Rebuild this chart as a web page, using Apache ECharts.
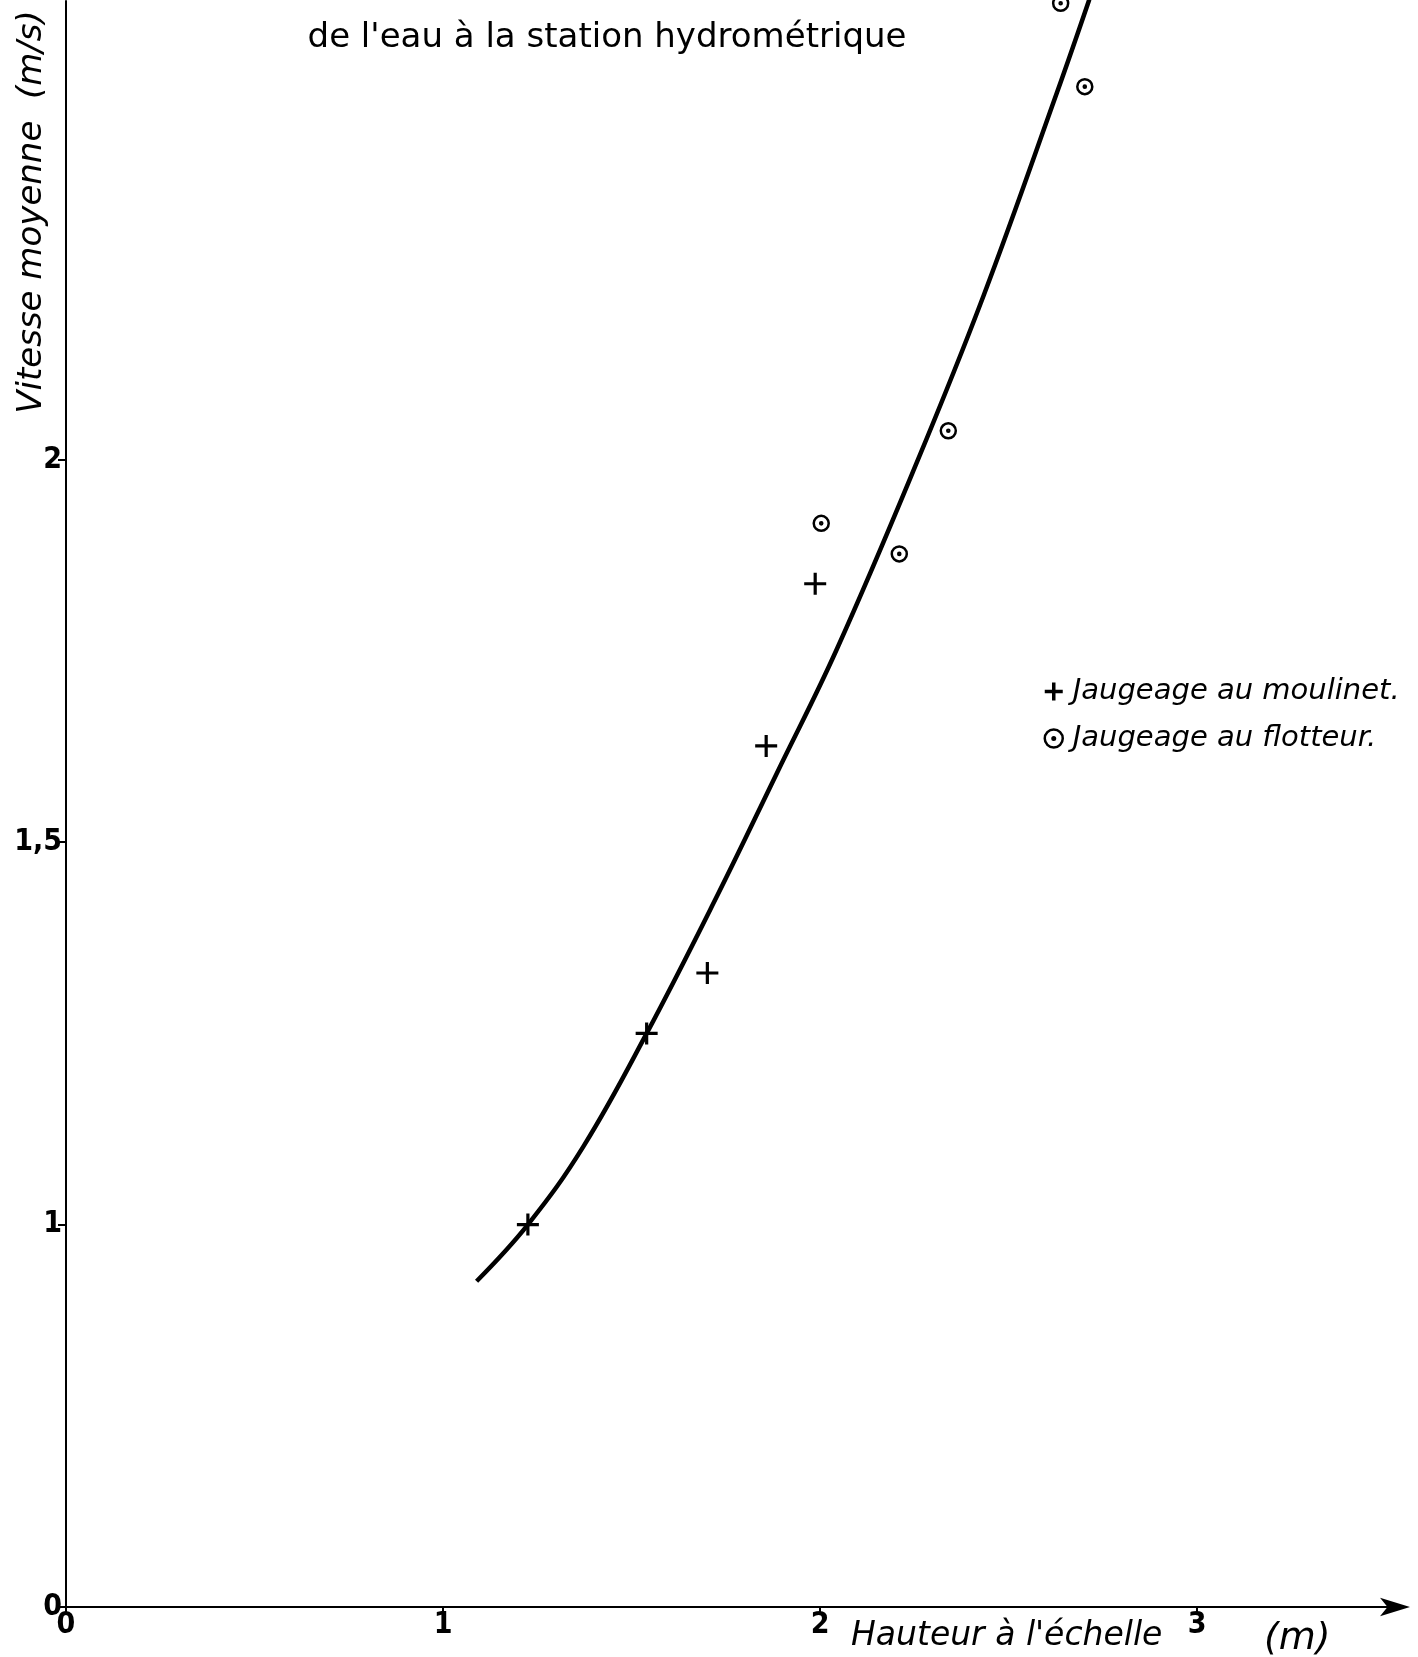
<!DOCTYPE html>
<html>
<head>
<meta charset="utf-8">
<script src="https://cdn.jsdelivr.net/npm/echarts@6/dist/echarts.min.js"></script>
<style>
  html, body { margin: 0; padding: 0; background: #fff; }
  #chart { width: 1418px; height: 1657px; }
</style>
</head>
<body>
<div id="chart"></div>
<script>
// ---- Data ----
// Hauteur à l'échelle (m), vitesse moyenne (m/s)
const moulinetX = [1.225, 1.540, 1.701, 1.857, 1.987];
const moulinetY = [1.000, 1.250, 1.329, 1.626, 1.838];
const flotteurX = [2.003, 2.210, 2.340, 2.638, 2.702];
const flotteurY = [1.917, 1.877, 2.038, 2.597, 2.488];
const curveX = [1.089, 1.225, 1.372, 1.540, 1.726, 1.885, 2.044, 2.256, 2.433, 2.628, 2.714];
const curveY = [0.926, 1.000, 1.102, 1.250, 1.429, 1.590, 1.752, 1.996, 2.214, 2.480, 2.602];
// Tick labels. The vertical axis is broken in the original drawing:
// the "0" sits one half-step below 1, i.e. where 0.5 would fall.
const xTickValues = [0, 1, 2, 3];
const xTickLabels = ['0', '1', '2', '3'];
const yTickValues = [0.5, 1, 1.5, 2];
const yTickLabels = ['0', '1', '1,5', '2'];
const seriesNames = ['Jaugeage au moulinet.', 'Jaugeage au flotteur.'];
const titleText = "de l'eau à la station hydrométrique";
const xName = "Hauteur à l'échelle";
const xUnit = '(m)';
const yName = 'Vitesse moyenne  (m/s)';

const zip = (a, b) => a.map((v, i) => [v, b[i]]);
const plusPath = 'path://M-10,0L10,0M0,-10L0,10';
const ringPath = 'path://M10,0A10,10 0 1,1 -10,0A10,10 0 1,1 10,0ZM1.4,0A1.4,1.4 0 1,1 -1.4,0A1.4,1.4 0 1,1 1.4,0Z';

const font = '"DejaVu Sans", "Liberation Sans", sans-serif';
const tickFont = '"Liberation Sans Narrow", "DejaVu Sans Condensed", "DejaVu Sans", sans-serif';
const chart = echarts.init(document.getElementById('chart'), null, { renderer: 'canvas' });

const tickLabelStyle = { color: '#000', fontFamily: tickFont, fontSize: 30, fontWeight: 'bold' };

chart.setOption({
  backgroundColor: '#ffffff',
  animation: false,
  grid: { left: 66, right: 18, top: 1, bottom: 50, containLabel: false },
  xAxis: {
    type: 'value', min: 0, max: 3.538,
    axisLine: { show: true, onZero: false, lineStyle: { color: '#000', width: 2 },
                symbol: ['none', 'arrow'], symbolSize: [14, 30], symbolOffset: [0, 10] },
    axisTick: { show: true, inside: false, length: 8, lineStyle: { color: '#000', width: 2 },
                customValues: xTickValues },
    axisLabel: Object.assign({ show: true, margin: 3, customValues: xTickValues,
                 formatter: v => { const i = xTickValues.indexOf(v); return i >= 0 ? xTickLabels[i] : ''; } }, tickLabelStyle),
    splitLine: { show: false }
  },
  yAxis: {
    type: 'value', min: 0.5, max: 2.6,
    axisLine: { show: true, onZero: false, lineStyle: { color: '#000', width: 2 } },
    axisTick: { show: true, inside: false, length: 8, lineStyle: { color: '#000', width: 2 },
                customValues: yTickValues },
    axisLabel: Object.assign({ show: true, margin: 4, customValues: yTickValues,
                 formatter: v => { const i = yTickValues.indexOf(v); return i >= 0 ? yTickLabels[i] : ''; } }, tickLabelStyle),
    splitLine: { show: false }
  },
  legend: {
    orient: 'vertical', left: 1038, top: 670, itemGap: 14,
    itemWidth: 20, itemHeight: 18,
    data: [
      { name: seriesNames[0], icon: plusPath,
        itemStyle: { color: 'transparent', borderColor: '#000', borderWidth: 3.5, opacity: 1 } },
      { name: seriesNames[1], icon: ringPath,
        itemStyle: { color: 'transparent', borderColor: '#000', borderWidth: 2.5, opacity: 1 } }
    ],
    textStyle: { color: '#000', fontFamily: font, fontStyle: 'italic', fontSize: 29, lineHeight: 33, padding: [0, 0, 0, 4] }
  },
  graphic: [
    { type: 'text', x: 607, y: 38, z: 10,
      style: { text: titleText, fill: '#000', font: '34px ' + font, textAlign: 'center', textVerticalAlign: 'middle' } },
    { type: 'text', x: 851, y: 1636, z: 10,
      style: { text: xName, fill: '#000', font: 'italic 33px ' + font, textVerticalAlign: 'middle' } },
    { type: 'text', x: 1264, y: 1639, z: 10,
      style: { text: xUnit, fill: '#000', font: 'italic 38px ' + font, textVerticalAlign: 'middle' } },
    { type: 'text', x: 32, y: 212, rotation: Math.PI / 2, z: 10,
      style: { text: yName, fill: '#000', font: 'italic 34px ' + font, textAlign: 'center', textVerticalAlign: 'middle' } }
  ],
  series: [
    {
      name: 'courbe', type: 'line', data: zip(curveX, curveY),
      smooth: 0.4, showSymbol: false, symbol: 'none',
      lineStyle: { color: '#000', width: 4.5 }, z: 2
    },
    {
      name: seriesNames[0], type: 'scatter', data: zip(moulinetX, moulinetY),
      symbol: plusPath, symbolSize: 22,
      itemStyle: { color: 'transparent', borderColor: '#000', borderWidth: 3.2, opacity: 1 }, z: 3
    },
    {
      name: seriesNames[1], type: 'scatter', data: zip(flotteurX, flotteurY),
      symbol: ringPath, symbolSize: 15,
      itemStyle: { color: 'transparent', borderColor: '#000', borderWidth: 2.5, opacity: 1 }, z: 3
    }
  ]
});
</script>
</body>
</html>
